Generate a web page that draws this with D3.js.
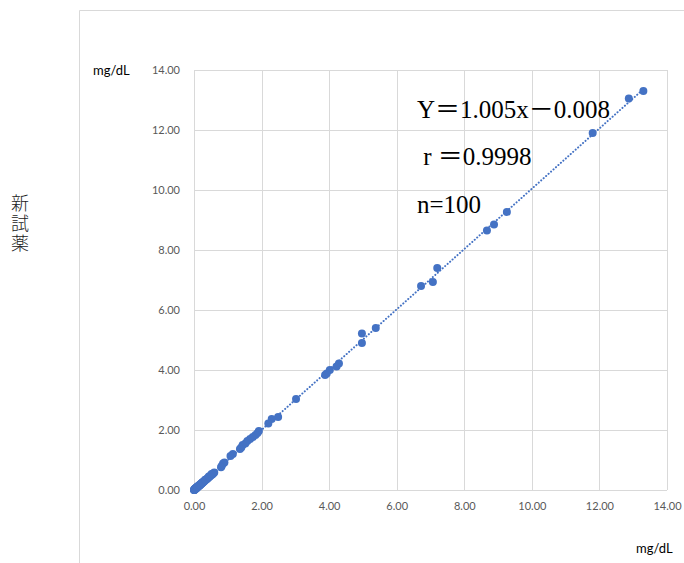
<!DOCTYPE html>
<html>
<head>
<meta charset="utf-8">
<script src="https://cdn.jsdelivr.net/npm/d3@7"></script>
<style>
  html, body { margin: 0; padding: 0; background: #fff; }
  svg { display: block; }
</style>
</head>
<body>
<div id="chart"></div>
<script>
// ---- data ----
const xValues = [13.30,12.87,11.80,9.26,8.88,8.67,7.20,7.07,6.72,5.38,4.97,4.97,4.29,4.22,4.02,3.93,3.88,3.02,2.49,2.30,2.20,1.92,1.88,1.82,1.74,1.66,1.58,1.52,1.44,1.40,1.36,1.15,1.08,0.90,0.86,0.82,0.80,
  0.60,0.57,0.54,0.50,0.47,0.45,0.42,0.40,0.38,0.36,0.34,0.32,0.30,0.29,0.27,0.26,0.24,0.23,0.22,0.20,0.19,0.18,0.17,0.16,0.15,0.14,0.13,0.12,0.11,0.10,0.10,0.09,0.08,0.08,0.07,0.06,0.06,0.05,0.05,0.04,0.04,0.03,0.03,0.02,0.02,0.01,0.01,0.00,0.00,0.02,0.03,0.04,0.06,0.07,0.09,0.11,0.13,0.16,0.21,0.25,0.33,0.44,0.52];
const yValues = [13.30,13.05,11.90,9.27,8.85,8.65,7.40,6.93,6.80,5.40,5.22,4.90,4.22,4.12,4.00,3.88,3.83,3.03,2.43,2.37,2.22,1.97,1.90,1.83,1.77,1.70,1.63,1.55,1.50,1.42,1.37,1.20,1.13,0.92,0.88,0.80,0.76,
  0.58,0.55,0.52,0.48,0.46,0.43,0.41,0.38,0.37,0.35,0.33,0.31,0.29,0.28,0.26,0.25,0.23,0.22,0.21,0.19,0.18,0.17,0.16,0.15,0.14,0.13,0.12,0.12,0.11,0.10,0.09,0.08,0.08,0.07,0.06,0.06,0.05,0.05,0.04,0.04,0.03,0.03,0.02,0.02,0.01,0.01,0.00,0.01,0.00,0.03,0.04,0.05,0.07,0.08,0.10,0.12,0.14,0.17,0.22,0.26,0.34,0.45,0.53];
const tickValues = [0, 2, 4, 6, 8, 10, 12, 14];
const slope = 1.005;
const intercept = -0.008;
const annotations = ["Y＝1.005x－0.008", " r ＝0.9998", "n=100"];
const unitLabel = "mg/dL";
const yTitle = "新試薬";

// ---- drawing ----
const W = 684, H = 563;
const svg = d3.select("#chart").append("svg").attr("width", W).attr("height", H);

const x = d3.scaleLinear().domain([0, 14]).range([194, 667]);
const y = d3.scaleLinear().domain([0, 14]).range([490, 70]);
const grid = "#d9d9d9";
const blue = "#4472c4";
const sans = "Lato, 'Liberation Sans', sans-serif";

// outer chart border (left and top visible)
svg.append("path").attr("d", `M79.5,${H} V10.5 H${W}`)
  .attr("fill", "none").attr("stroke", grid).attr("stroke-width", 1);

// gridlines
svg.append("g").selectAll("line").data(tickValues).join("line")
  .attr("x1", d => Math.round(x(d)) + 0.5).attr("x2", d => Math.round(x(d)) + 0.5)
  .attr("y1", y(0)).attr("y2", y(14))
  .attr("stroke", grid).attr("stroke-width", 1);
svg.append("g").selectAll("line").data(tickValues).join("line")
  .attr("y1", d => Math.round(y(d)) + 0.5).attr("y2", d => Math.round(y(d)) + 0.5)
  .attr("x1", x(0)).attr("x2", x(14))
  .attr("stroke", grid).attr("stroke-width", 1);

// axes (labels only)
const xAxis = d3.axisBottom(x).tickValues(tickValues).tickFormat(d3.format(".2f")).tickSize(0).tickPadding(12);
const gx = svg.append("g").attr("transform", `translate(0,${y(0)})`).call(xAxis);
const yAxis = d3.axisLeft(y).tickValues(tickValues).tickFormat(d3.format(".2f")).tickSize(0).tickPadding(14);
const gy = svg.append("g").attr("transform", `translate(${x(0)},0)`).call(yAxis);
[gx, gy].forEach(g => {
  g.select(".domain").remove();
  g.selectAll("text").attr("fill", "#595959").style("font-family", sans).style("font-size", "11px");
});

// trendline
const xExt = d3.extent(xValues);
svg.append("line")
  .attr("x1", x(xExt[0])).attr("y1", y(slope * xExt[0] + intercept))
  .attr("x2", x(xExt[1])).attr("y2", y(slope * xExt[1] + intercept))
  .attr("stroke", blue).attr("stroke-width", 2)
  .attr("stroke-dasharray", "0.1 3.2").attr("stroke-linecap", "round");

// points
svg.append("g").selectAll("circle").data(xValues.map((v, i) => [v, yValues[i]])).join("circle")
  .attr("cx", d => x(d[0])).attr("cy", d => y(d[1])).attr("r", 4)
  .attr("fill", blue);

// annotations
const serif = "'Liberation Serif', 'Noto Sans CJK JP', serif";
const annY = [118, 165, 213];
const annX = [417, 417, 417];
annotations.forEach((t, i) => {
  svg.append("text").attr("x", annX[i]).attr("y", annY[i])
    .attr("xml:space", "preserve").style("white-space", "pre")
    .style("font-family", serif).style("font-size", "25px").attr("fill", "#000").text(t);
});

// unit labels
svg.append("text").attr("x", 93).attr("y", 75).text(unitLabel)
  .style("font-family", sans).style("font-size", "13px").attr("fill", "#000");
svg.append("text").attr("x", 636).attr("y", 553).text(unitLabel)
  .style("font-family", sans).style("font-size", "13px").attr("fill", "#000");

// vertical y title
svg.append("text").attr("x", 20).attr("y", 194)
  .style("writing-mode", "vertical-rl").style("letter-spacing", "2px")
  .style("font-family", "'Noto Sans CJK JP', sans-serif").style("font-size", "18px")
  .style("font-weight", "300").attr("fill", "#222").text(yTitle);
</script>
</body>
</html>
